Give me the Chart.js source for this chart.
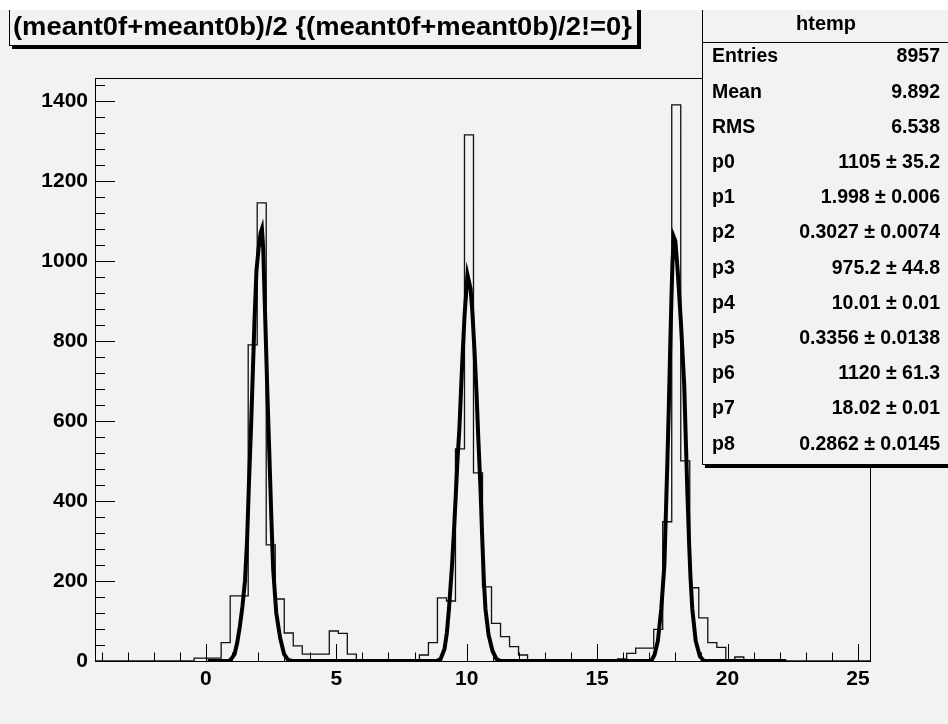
<!DOCTYPE html>
<html>
<head>
<meta charset="UTF-8">
<title>htemp</title>
<script src="https://cdn.jsdelivr.net/npm/chart.js"></script>
<style>
  html, body { margin: 0; padding: 0; background: #f2f2f2; }
  #c { display: block; }
</style>
</head>
<body>
<canvas id="c" width="948" height="724"></canvas>
<script>
// histogram htemp : 86 bins starting at xMin
const xMin = -4.25;
const binWidth = 0.3455;
const counts = [
  0, 0, 0, 0, 0, 0, 0, 0, 0, 0,
  0, 7, 7, 7, 46, 163, 163, 790, 1145, 290,
  155, 70, 38, 17, 17, 17, 75, 69, 17, 3,
  0, 0, 0, 0, 0, 3, 15, 46, 158, 150,
  530, 1315, 470, 185, 94, 61, 36, 15, 3, 0,
  0, 0, 0, 0, 0, 0, 0, 0, 5, 19,
  32, 32, 79, 348, 1390, 500, 183, 108, 46, 34,
  3, 10, 0, 0, 0, 0, 0, 0, 0, 0,
  0, 0, 0, 0, 0, 0
];

// fitted curve (3 gaussians)
const fitX = [0.07, 0.85, 0.95, 1.1, 1.2, 1.3, 1.4, 1.5, 1.58, 1.65, 1.73, 1.8, 1.87, 1.94, 2.02, 2.1, 2.15, 2.2, 2.25, 2.31, 2.37, 2.44, 2.51, 2.58, 2.7, 2.85, 3.0, 3.15, 3.3,
  8.85, 9.0, 9.15, 9.24, 9.32, 9.44, 9.51, 9.58, 9.65, 9.72, 9.78, 9.84, 9.92, 10.03, 10.15, 10.22, 10.3, 10.38, 10.45, 10.53, 10.6, 10.66, 10.72, 10.84, 10.99, 11.14, 11.3,
  17.0, 17.1, 17.2, 17.33, 17.46, 17.58, 17.62, 17.66, 17.7, 17.75, 17.8, 17.85, 17.89, 17.94, 18.0, 18.09, 18.21, 18.34, 18.4, 18.46, 18.53, 18.58, 18.65, 18.78, 18.94, 19.1, 22.25];
const fitY = [0, 0, 3, 17, 45, 85, 135, 200, 300, 440, 580, 720, 860, 975, 1030, 1070, 1080, 1030, 915, 780, 645, 505, 360, 230, 120, 57, 17, 3, 0,
  0, 5, 30, 70, 130, 240, 322, 412, 505, 580, 672, 760, 865, 965, 930, 870, 775, 665, 550, 430, 300, 200, 130, 65, 25, 5, 0,
  0, 3, 15, 50, 130, 240, 330, 420, 510, 635, 775, 905, 995, 1060, 1050, 975, 850, 690, 555, 425, 290, 210, 130, 50, 12, 0, 0];

const xLabels = [0, 5, 10, 15, 20, 25];
const yLabels = [0, 200, 400, 600, 800, 1000, 1200, 1400];
const yMax = 1457;

const titleText = '(meant0f+meant0b)/2 {(meant0f+meant0b)/2!=0}';
const statName = 'htemp';
const statLabels = ['Entries', 'Mean', 'RMS', 'p0', 'p1', 'p2', 'p3', 'p4', 'p5', 'p6', 'p7', 'p8'];
const statValues = ['8957', '9.892', '6.538', '1105 \u00b1 35.2', '1.998 \u00b1 0.006', '0.3027 \u00b1 0.0074',
  '975.2 \u00b1 44.8', '10.01 \u00b1 0.01', '0.3356 \u00b1 0.0138', '1120 \u00b1 61.3', '18.02 \u00b1 0.01', '0.2862 \u00b1 0.0145'];

const xMax = xMin + counts.length * binWidth;
const FONT = '"Liberation Sans", Arial, Helvetica, sans-serif';
const BG = '#f2f2f2';

// step outline points (left edges, then the closing right edge)
const histPts = counts.map((c, i) => ({ x: xMin + i * binWidth, y: c }));
histPts.push({ x: xMax, y: 0 });
const fitPts = fitX.map((x, i) => ({ x: x, y: fitY[i] }));

// ROOT style frame, ticks, title box and stat box
const rootDecor = {
  id: 'rootDecor',
  beforeDraw(chart) {
    const ctx = chart.ctx;
    ctx.save();
    ctx.fillStyle = BG;
    ctx.fillRect(0, 0, chart.width, chart.height);
    ctx.restore();
  },
  afterDraw(chart) {
    const ctx = chart.ctx;
    const a = chart.chartArea;
    const xs = chart.scales.x, ys = chart.scales.y;
    ctx.save();
    ctx.strokeStyle = '#000';
    ctx.lineWidth = 1;
    ctx.strokeRect(Math.round(a.left) + 0.5, Math.round(a.top) + 0.5, Math.round(a.right - a.left), Math.round(a.bottom - a.top));

    // x ticks, pointing inward
    ctx.beginPath();
    for (let v = Math.ceil(xMin); v <= Math.floor(xMax); v++) {
      const px = Math.round(xs.getPixelForValue(v)) + 0.5;
      const len = v % 5 === 0 ? 17 : 8.5;
      ctx.moveTo(px, a.bottom);
      ctx.lineTo(px, a.bottom - len);
    }
    // y ticks
    for (let v = 0; v <= yMax; v += 40) {
      const py = Math.round(ys.getPixelForValue(v)) + 0.5;
      const len = v % 200 === 0 ? 20 : 10;
      ctx.moveTo(a.left, py);
      ctx.lineTo(a.left + len, py);
    }
    ctx.stroke();

    // title box
    ctx.fillStyle = '#000';
    ctx.fillRect(12, 46, 629, 3);
    ctx.fillRect(638, 0, 3, 49);
    ctx.fillStyle = BG;
    ctx.fillRect(9, -10, 629, 56);
    ctx.strokeRect(9.5, -10.5, 628, 56);
    ctx.fillStyle = '#000';
    ctx.font = 'bold 25px ' + FONT;
    const tw = ctx.measureText(titleText).width;
    ctx.save();
    ctx.translate(13, 28);
    ctx.scale(619 / tw, 1);
    ctx.textBaseline = 'middle';
    ctx.fillText(titleText, 0, 0);
    ctx.restore();

    // stat box
    ctx.fillStyle = '#000';
    ctx.fillRect(705, 465, 250, 3);
    ctx.fillStyle = BG;
    ctx.fillRect(702, -10, 260, 475);
    ctx.strokeRect(702.5, -10.5, 260, 475);
    ctx.beginPath();
    ctx.moveTo(702, 42.5);
    ctx.lineTo(948, 42.5);
    ctx.stroke();
    ctx.fillStyle = '#000';
    ctx.textBaseline = 'middle';
    ctx.font = 'bold 20px ' + FONT;
    ctx.textAlign = 'center';
    ctx.fillText(statName, 826, 24);
    ctx.font = 'bold 19.5px ' + FONT;
    statLabels.forEach((lab, i) => {
      const y = 57 + i * 35.2;
      ctx.textAlign = 'left';
      ctx.fillText(lab, 712, y);
      ctx.textAlign = 'right';
      ctx.fillText(statValues[i], 940, y);
    });

    // white strip on top of the picture
    ctx.fillStyle = '#fff';
    ctx.fillRect(0, 0, chart.width, 10);
    ctx.restore();
  }
};

new Chart(document.getElementById('c'), {
  type: 'line',
  data: {
    datasets: [
      { label: 'fit', data: fitPts, borderColor: '#000', borderWidth: 4, pointRadius: 0, tension: 0, fill: false, order: 0 },
      { label: 'htemp', data: histPts, borderColor: '#111', borderWidth: 1.3, pointRadius: 0, stepped: true, fill: false, order: 1 }
    ]
  },
  options: {
    responsive: false,
    devicePixelRatio: 1,
    animation: false,
    layout: { padding: { left: 0, top: 78, right: 78, bottom: 0 } },
    plugins: { legend: { display: false }, tooltip: { enabled: false } },
    scales: {
      x: {
        type: 'linear', min: xMin, max: xMax,
        afterBuildTicks: s => { s.ticks = xLabels.map(v => ({ value: v })); },
        afterFit: s => { s.height = 63; },
        grid: { display: false, tickLength: 0 },
        border: { display: false },
        ticks: { color: '#000', padding: 6, maxRotation: 0, autoSkip: false, callback: v => String(v),
          font: { family: FONT, weight: 'bold', size: 21 } }
      },
      y: {
        min: 0, max: yMax,
        afterBuildTicks: s => { s.ticks = yLabels.map(v => ({ value: v })); },
        afterFit: s => { s.width = 95; },
        grid: { display: false, tickLength: 0 },
        border: { display: false },
        ticks: { color: '#000', padding: 7, autoSkip: false, callback: v => String(v),
          font: { family: FONT, weight: 'bold', size: 21 } }
      }
    }
  },
  plugins: [rootDecor]
});
</script>
</body>
</html>
